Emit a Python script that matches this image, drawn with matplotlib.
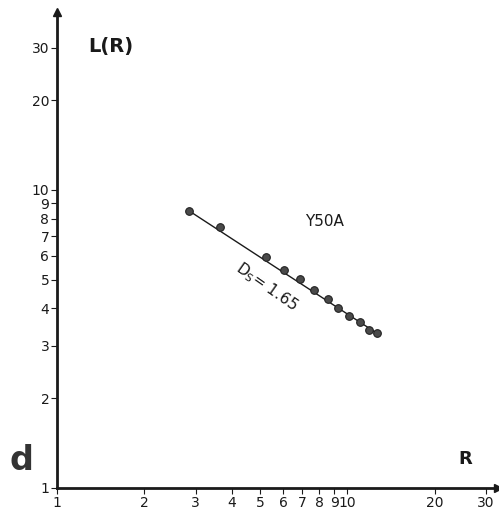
"""Log-log plot of L(R) versus R for sample Y50A."""

import matplotlib

matplotlib.use("Agg")
import matplotlib.pyplot as plt
from matplotlib.ticker import FixedLocator, NullLocator

# values
r_values = [2.85, 3.63, 5.25, 6.07, 6.88, 7.64, 8.54, 9.31, 10.1, 11.0, 11.9, 12.65]
l_values = [8.50, 7.53, 5.94, 5.39, 5.03, 4.62, 4.31, 4.01, 3.78, 3.60, 3.39, 3.30]
x_ticks = [1, 2, 3, 4, 5, 6, 7, 8, 9, 10, 20, 30]
x_labels = ["1", "2", "3", "4", "5", "6", "7", "8", "9", "10", "20", "30"]
y_ticks = [1, 2, 3, 4, 5, 6, 7, 8, 9, 10, 20, 30]
y_labels = ["1", "2", "3", "4", "5", "6", "7", "8", "9", "10", "20", "30"]

fig = plt.figure(figsize=(4.99, 5.16), dpi=100)
ax = fig.add_axes([0.1142, 0.0543, 0.884, 0.9225])
ax.set_xscale("log")
ax.set_yscale("log")
ax.set_xlim(1, 33)
ax.set_ylim(1, 39.5)

ink = "#1a1a1a"
ax.plot([r_values[0], r_values[-1]], [l_values[0], l_values[-1]], color=ink, lw=1.0)
ax.plot(r_values, l_values, "o", ms=5.5, color="#4a4a4a", mec="#222222", mew=0.8)

for side in ("top", "right"):
    ax.spines[side].set_visible(False)
for side in ("left", "bottom"):
    ax.spines[side].set_linewidth(2.0)
    ax.spines[side].set_color(ink)

ax.xaxis.set_major_locator(FixedLocator(x_ticks))
ax.yaxis.set_major_locator(FixedLocator(y_ticks))
ax.xaxis.set_minor_locator(NullLocator())
ax.yaxis.set_minor_locator(NullLocator())
ax.set_xticklabels(x_labels)
ax.set_yticklabels(y_labels)
ax.tick_params(axis="both", direction="out", length=4, width=0.8, color=ink,
               labelsize=10, labelcolor=ink, pad=1.5)

# arrow heads on the axes
ax.plot(0, 1, marker="^", ms=6, color=ink, transform=ax.transAxes, clip_on=False)
ax.plot(1, 0, marker=">", ms=6, color=ink, transform=ax.transAxes, clip_on=False)

ax.text(0.07, 0.915, "L(R)", transform=ax.transAxes, fontsize=14, fontweight="bold",
        color=ink)
ax.text(0.94, 0.05, "R", transform=ax.transAxes, fontsize=13, fontweight="bold",
        color=ink, ha="right")
ax.text(0.0, 0.0, "Y50A", fontsize=11, color=ink,
        transform=ax.transAxes + matplotlib.transforms.ScaledTranslation(
            305 / 100 - 57 / 100, (488 - 218 - 8) / 100, fig.dpi_scale_trans))
ax.text(5.25, 4.72, r"$\mathsf{D_S}$" + "= 1.65", fontsize=11, color=ink,
        rotation=-35, ha="center", va="center", rotation_mode="anchor")
fig.text(0.02, 0.09, "d", fontsize=24, fontweight="bold", color="#333333")

fig.savefig("out.png", dpi=100)
